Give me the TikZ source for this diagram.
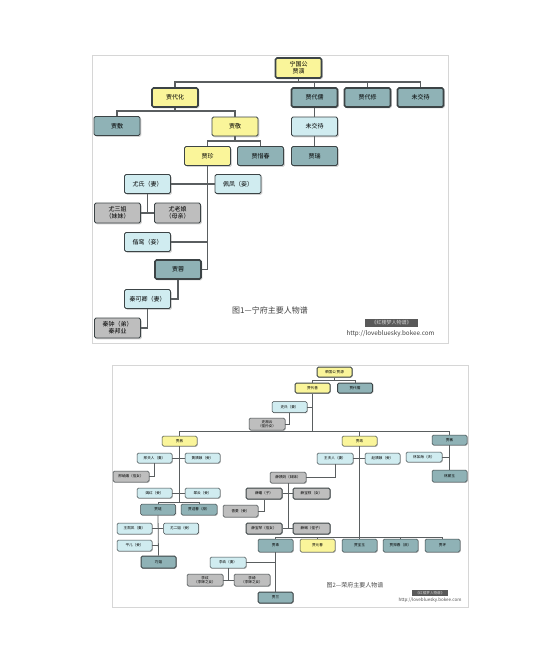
\documentclass[tikz,border=0pt]{standalone}
\usepackage{fontspec}
\newfontfamily\cjk{Noto Sans CJK SC}
\usetikzlibrary{shadows}
\definecolor{fyel}{HTML}{FAF59A}
\definecolor{ftea}{HTML}{8FB2B6}
\definecolor{flb}{HTML}{D0ECF0}
\definecolor{fgr}{HTML}{BEBEBE}
\definecolor{bord}{HTML}{3C4446}
\definecolor{lcol}{HTML}{5A5E60}
\definecolor{frame}{HTML}{D6D6D6}
\begin{document}
\begin{tikzpicture}[x=1pt,y=-1pt,
  base/.style={draw=bord, rounded corners=1.5pt, inner sep=0pt, align=center},
  pa/.style={base, line width=0.9pt, minimum width=46pt, minimum height=19pt,
    font=\cjk\fontsize{6}{7.2}\selectfont,
    drop shadow={shadow xshift=1.3pt,shadow yshift=-1.3pt,opacity=.35}},
  pb/.style={base, line width=0.5pt, minimum width=35pt, minimum height=11pt,
    font=\cjk\fontsize{3.6}{4.3}\selectfont,
    drop shadow={shadow xshift=.8pt,shadow yshift=-.8pt,opacity=.35}},
  fy/.style={fill=fyel}, ft/.style={fill=ftea}, fl/.style={fill=flb}, fg/.style={fill=fgr},
  heavy/.style={line width=1.6pt},
  heavyb/.style={line width=1pt},
  ca/.style={draw=lcol, line width=1.6pt},
  cb/.style={draw=lcol, line width=0.8pt}
]
\useasboundingbox (0,0) rectangle (560,665);
\fill[white] (0,0) rectangle (560,665);
% frames
\draw[frame, line width=0.8pt] (92,55) rectangle (448,343);
\draw[frame, line width=0.8pt] (112,365) rectangle (468,607);

% ---------------- panel 1 ----------------
\node[pa,fy,heavy,minimum height=20pt] (yan) at (298.5,68) {宁国公\\贾演};
\node[pa,fy,heavy] (daihua) at (175,97.5) {贾代化};
\node[pa,ft,heavy] (dairu) at (314.5,97.5) {贾代儒};
\node[pa,ft,heavy] (daixiu) at (367.5,97.5) {贾代修};
\node[pa,ft,heavy] (wj1) at (420.5,97.5) {未交待};
\node[pa,ft] (fu) at (117,126) {贾敷};
\node[pa,fy] (jing) at (235,126.5) {贾敬};
\node[pa,fl] (wj2) at (314.5,126.5) {未交待};
\node[pa,ft] (rui) at (314.5,156) {贾瑞};
\node[pa,fy] (zhen) at (207.5,156) {贾珍};
\node[pa,ft] (xichun) at (260.5,156) {贾惜春};
\node[pa,fl] (youshi) at (147.5,184) {尤氏（妻）};
\node[pa,fl] (peifeng) at (238,184) {佩凤（妾）};
\node[pa,fg,minimum height=20pt] (sanjie) at (117.5,213) {尤三姐\\（妹妹）};
\node[pa,fg,minimum height=20pt] (laoniang) at (177.5,213) {尤老娘\\（母亲）};
\node[pa,fl] (xieluan) at (147.5,242) {偕鸾（妾）};
\node[pa,ft,heavy] (rong) at (178,269.5) {贾蓉};
\node[pa,fl] (keqing) at (147.5,299) {秦可卿（妻）};
\node[pa,fg,minimum height=20pt] (qinzhong) at (117.5,328) {秦钟（弟）\\秦邦业};

\coordinate (b1) at (0,82);
\coordinate (b2) at (0,111);
\coordinate (b3) at (0,141);
\draw[ca] (daihua.north) -- (daihua.north |- b1) -- (wj1.north |- b1) -- (wj1.north);
\draw[ca] (yan.south) -- (yan.south |- b1);
\draw[ca] (dairu.north) -- (dairu.north |- b1);
\draw[ca] (daixiu.north) -- (daixiu.north |- b1);
\draw[ca] (fu.north) -- (fu.north |- b2) -- (jing.north |- b2) -- (jing.north);
\draw[ca] (daihua.south) -- (daihua.south |- b2);
\draw[ca] (dairu.south) -- (wj2.north);
\draw[ca] (wj2.south) -- (rui.north);
\draw[ca] (zhen.north) -- (zhen.north |- b3) -- (xichun.north |- b3) -- (xichun.north);
\draw[ca] (jing.south) -- (jing.south |- b3);
\draw[ca] (youshi.east) -- (peifeng.west);
\draw[ca] (sanjie.east) -- (laoniang.west);
\draw[ca] (youshi.south) -- (youshi.south |- sanjie.east);
\draw[ca] (xieluan.east) -- (xieluan.east -| zhen.south);
\draw[ca] (zhen.south) |- (rong.east);
\draw[ca] (rong.south) |- (keqing.east);
\draw[ca] (keqing.south) |- (qinzhong.east);

\node[font=\cjk\fontsize{8}{9}\selectfont, text=black!75, inner sep=0] (cap1) at (270,310) {图1—宁府主要人物谱};
\node[fill=black!65, text=white!85!black, font=\cjk\fontsize{5}{6}\selectfont, inner sep=0,
  minimum width=53pt, minimum height=8pt] (badge1) at (391.5,323) {《红楼梦人物谱》};
\node[font=\cjk\fontsize{6.3}{7}\selectfont, text=black!75, inner sep=0] (url1) at (390.5,333.5) {http://lovebluesky.bokee.com};

% ---------------- panel 2 ----------------
\node[pb,fy,heavyb,minimum height=10pt] (gong) at (334.5,372) {荣国公 贾源};
\node[pb,fy,heavyb,minimum height=10pt] (daishan) at (312.5,388) {贾代善};
\node[pb,ft,heavyb,minimum height=10pt] (daix) at (355,388) {贾代儒};
\node[pb,fl] (shishi) at (289.5,407) {史氏（妻）};
\node[pb,fg,minimum width=36pt,minimum height=12pt] (xiangyun) at (267,424) {史湘云\\（侄孙女）};
\node[pb,fy,minimum height=10pt] (she) at (179.5,441) {贾赦};
\node[pb,fy,minimum height=10pt] (zheng) at (359.5,441) {贾政};
\node[pb,ft,minimum height=10pt] (min) at (449.5,440) {贾敏};

\coordinate (c1) at (0,380);
\coordinate (c2) at (0,431);
\draw[cb] (gong.south) -- (gong.south |- c1);
\draw[cb] (daishan.north) -- (daishan.north |- c1) -- (daix.north |- c1) -- (daix.north);
\draw[cb] (shishi.east) -- (shishi.east -| daishan.south);
\draw[cb] (shishi.south) |- (xiangyun.east);
\draw[cb] (daishan.south) -- (daishan.south |- c2);
\draw[cb] (she.north) -- (she.north |- c2) -- (min.north |- c2) -- (min.north);
\draw[cb] (zheng.north) -- (zheng.north |- c2);

% She branch
\node[pb,fl,minimum height=10pt] (xingfr) at (154.5,458) {邢夫人（妻）};
\node[pb,fl,minimum height=10pt] (yiniang) at (202.5,458) {黄姨娘（妾）};
\node[pb,fg,minimum width=36pt] (xiuyan) at (131,476.5) {邢岫烟（侄女）};
\node[pb,fl,minimum height=10pt] (yanhong) at (154.5,493) {嫣红（妾）};
\node[pb,fl,minimum height=10pt] (cuiyun) at (202.5,493) {翠云（妾）};
\node[pb,ft] (lian) at (158,509.5) {贾琏};
\node[pb,ft,minimum width=36pt] (yingchun) at (199,509.5) {贾迎春（庶）};
\node[pb,fl] (xifeng) at (134.5,528.5) {王熙凤（妻）};
\node[pb,fl] (erjie) at (181,528.5) {尤二姐（妾）};
\node[pb,fl] (pinger) at (134.5,545.5) {平儿（妾）};
\node[pb,ft,heavyb,minimum height=12pt] (qiaojie) at (158.5,562) {巧姐};
\coordinate (c3) at (0,502);
\draw[cb] (xingfr.east) -- (yiniang.west);
\draw[cb] (xingfr.south) |- (xiuyan.east);
\draw[cb] (yanhong.east) -- (cuiyun.west);
\draw[cb] (she.south) -- (she.south |- c3);
\draw[cb] (lian.north) -- (lian.north |- c3) -- (yingchun.north |- c3) -- (yingchun.north);
\draw[cb] (xifeng.east) -- (erjie.west);
\draw[cb] (pinger.east) -- (pinger.east -| lian.south);
\draw[cb] (lian.south) -- (qiaojie.north);

% Zheng branch
\node[pb,fl,minimum width=36pt] (wangfr) at (335,458.5) {王夫人（妻）};
\node[pb,fl] (zhaoyn) at (382.5,458.5) {赵姨娘（妾）};
\node[pb,fg,minimum width=36pt] (xueyima) at (288,477.5) {薛姨妈（妹妹）};
\node[pb,fg,heavyb,minimum width=36pt] (xuepan) at (264,493.5) {薛蟠（子）};
\node[pb,fg,heavyb,minimum width=37pt] (baochai) at (311.5,493.5) {薛宝钗（女）};
\node[pb,fg,minimum height=12pt] (xiangling) at (240.5,511) {香菱（妾）};
\node[pb,fg,heavyb,minimum width=36pt] (baoqin) at (264,528.5) {薛宝琴（侄女）};
\node[pb,fg,heavyb,minimum width=37pt] (xueke) at (311.5,528.5) {薛蝌（侄子）};
\node[pb,ft,minimum height=13pt] (zhu) at (275.5,545.5) {贾珠};
\node[pb,fy,minimum height=13pt] (yuanchun) at (317.5,545.5) {贾元春};
\node[pb,ft,minimum height=13pt] (baoyu) at (359.5,545.5) {贾宝玉};
\node[pb,ft,minimum height=13pt] (tanchun) at (400.5,545.5) {贾探春（庶）};
\node[pb,ft,minimum height=13pt] (huan) at (442.5,545.5) {贾环};
\node[pb,fl,minimum width=36pt] (liwan) at (228,562.5) {李纨（妻）};
\node[pb,fg,minimum width=36pt,minimum height=12pt] (liwen) at (205,580) {李纹\\（李婶之女）};
\node[pb,fg,minimum width=36pt,minimum height=12pt] (liqi) at (252,580) {李绮\\（李婶之女）};
\node[pb,ft,heavyb] (lan) at (275.5,597.5) {贾兰};
\coordinate (c4) at (0,537);
\draw[cb] (wangfr.east) -- (zhaoyn.west);
\draw[cb] (wangfr.south) |- (xueyima.east);
\draw[cb] (xuepan.east) -- (baochai.west);
\draw[cb] (xuepan.south) |- (xiangling.east);
\draw[cb] (baoqin.east) -- (xueke.west);
\draw[cb] (xueyima.south) -- (xueyima.south |- baoqin.east);
\draw[cb] (zheng.south) -- (zheng.south |- c4);
\draw[cb] (zhu.north) -- (zhu.north |- c4) -- (huan.north |- c4) -- (huan.north);
\draw[cb] (yuanchun.north) -- (yuanchun.north |- c4);
\draw[cb] (baoyu.north) -- (baoyu.north |- c4);
\draw[cb] (tanchun.north) -- (tanchun.north |- c4);
\draw[cb] (liwan.east) -- (liwan.east -| zhu.south);
\draw[cb] (liwen.east) -- (liqi.west);
\draw[cb] (liwan.south) -- (liwan.south |- liwen.east);
\draw[cb] (zhu.south) -- (lan.north);

% Min branch
\node[pb,fl,minimum width=36pt,minimum height=10pt] (linrh) at (424,457) {林如海（夫）};
\node[pb,ft,minimum height=12pt] (daiyu) at (449.5,476) {林黛玉};
\draw[cb] (linrh.east) -- (linrh.east -| min.south);
\draw[cb] (min.south) -- (daiyu.north);

\node[font=\cjk\fontsize{6}{7}\selectfont, text=black!70, inner sep=0] (cap2) at (355,585) {图2—荣府主要人物谱};
\node[fill=black!65, text=white!85!black, font=\cjk\fontsize{3.6}{4}\selectfont, inner sep=0,
  minimum width=36pt, minimum height=5.5pt] (badge2) at (430,593) {《红楼梦人物谱》};
\node[font=\cjk\fontsize{4.5}{5}\selectfont, text=black!70, inner sep=0] (url2) at (430,600.5) {http://lovebluesky.bokee.com};
\end{tikzpicture}
\end{document}
